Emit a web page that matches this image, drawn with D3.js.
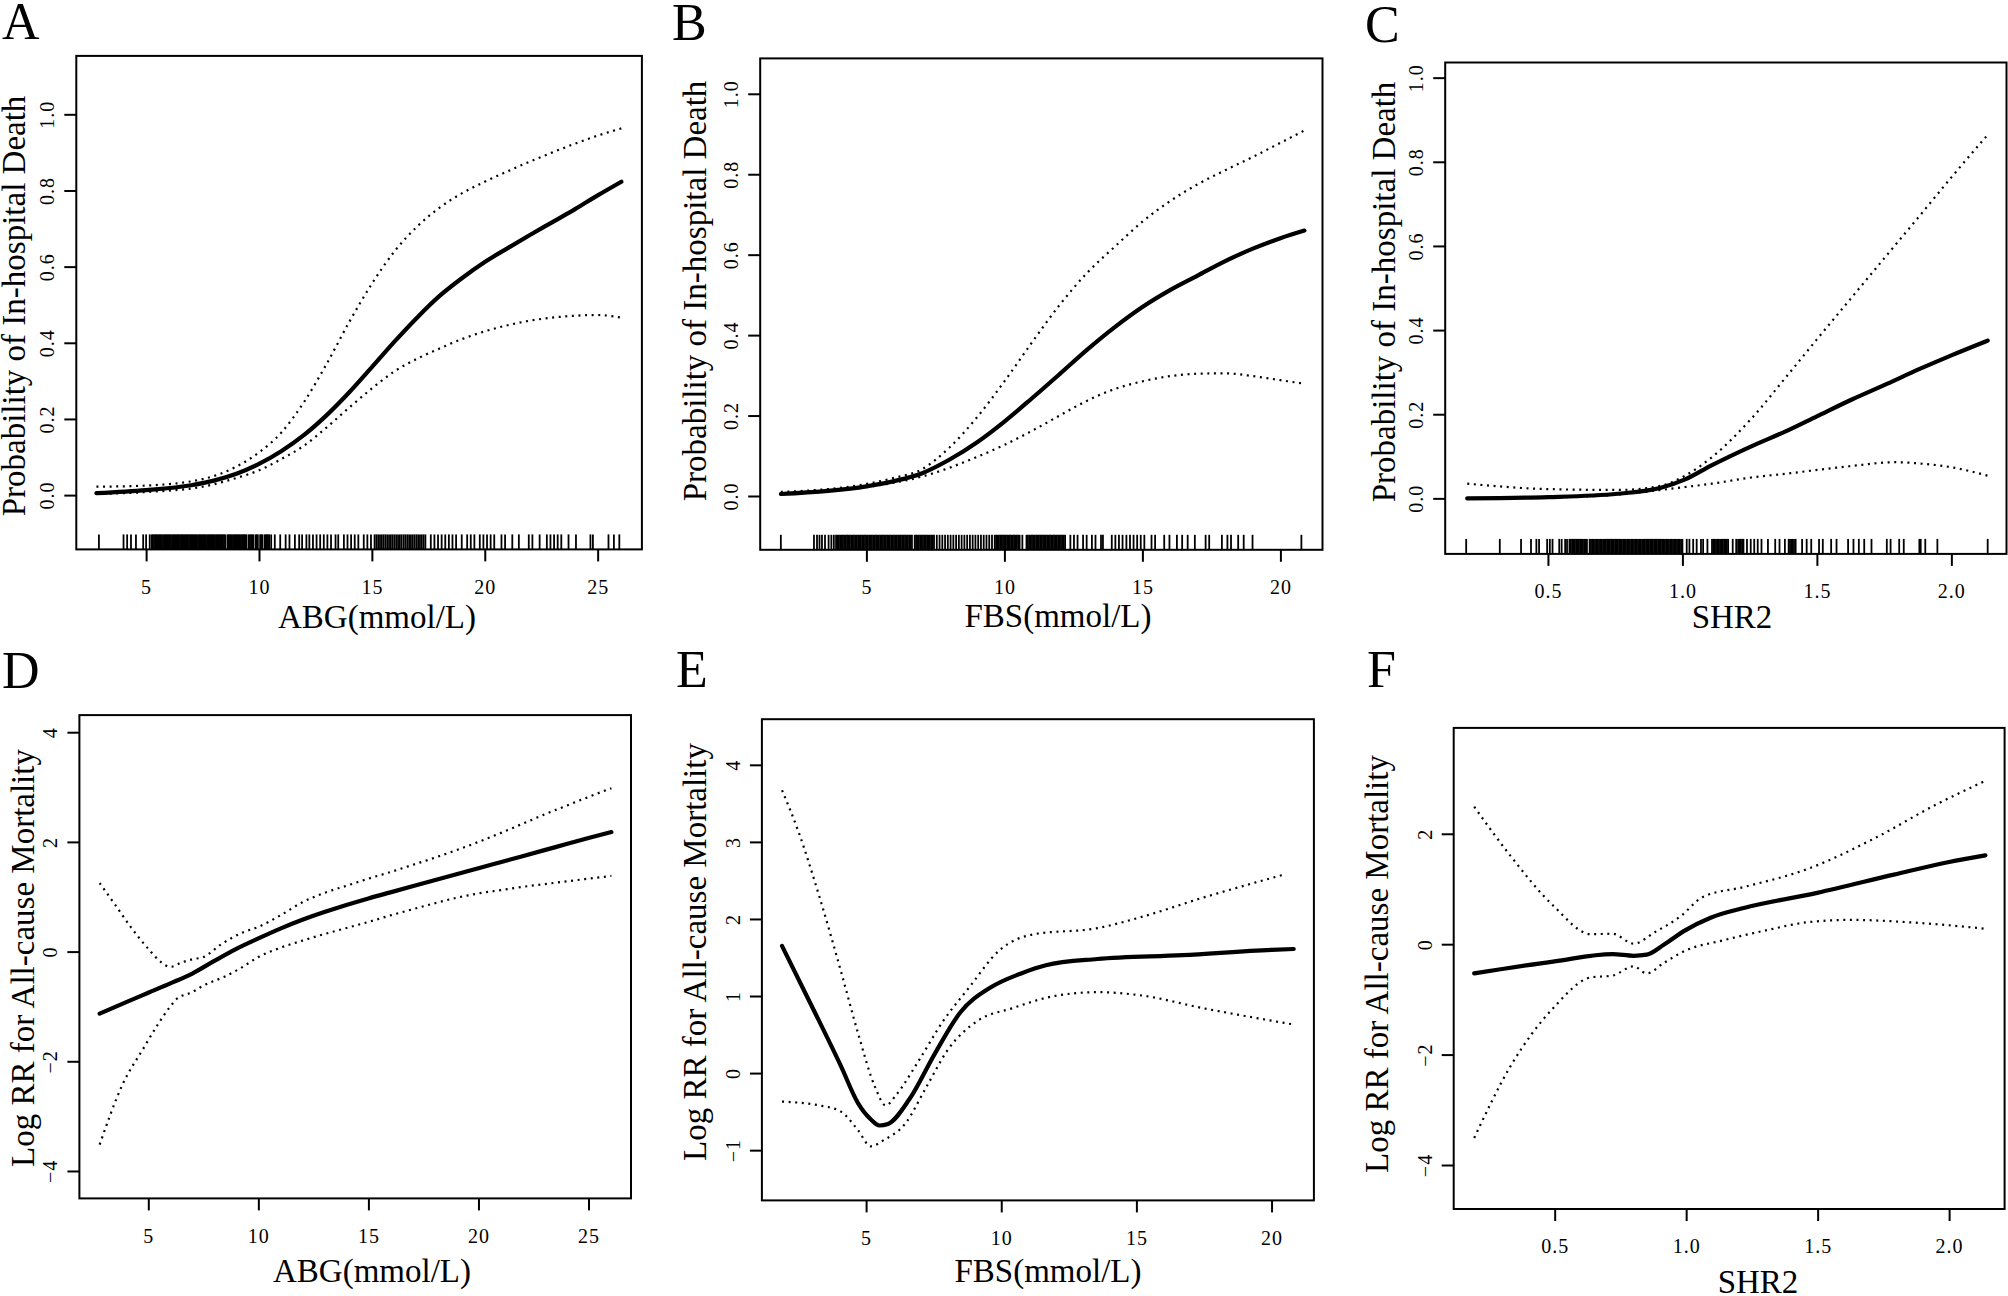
<!DOCTYPE html>
<html><head><meta charset="utf-8">
<script src="https://cdn.jsdelivr.net/npm/d3@7/dist/d3.min.js"></script>
<style>
html,body{margin:0;padding:0;background:#fff;}
svg{display:block;}
</style></head><body>
<svg id="chart" width="2008" height="1296"></svg>
<script>
// ---------------- DATA ----------------
const panelLetters = ["A","B","C","D","E","F"];
const xTitles = ["ABG(mmol/L)","FBS(mmol/L)","SHR2","ABG(mmol/L)","FBS(mmol/L)","SHR2"];
const yTitles = ["Probability of In-hospital Death","Probability of In-hospital Death","Probability of In-hospital Death",
                 "Log RR for All-cause Mortality","Log RR for All-cause Mortality","Log RR for All-cause Mortality"];

const xTicksABG = [5,10,15,20,25];           const xTickLabelsABG = ["5","10","15","20","25"];
const xTicksFBS = [5,10,15,20];              const xTickLabelsFBS = ["5","10","15","20"];
const xTicksSHR = [0.5,1.0,1.5,2.0];         const xTickLabelsSHR = ["0.5","1.0","1.5","2.0"];
const yTicksProb = [0,0.2,0.4,0.6,0.8,1.0];  const yTickLabelsProb = ["0.0","0.2","0.4","0.6","0.8","1.0"];
const yTicksD = [-4,-2,0,2,4];               const yTickLabelsD = ["\u22124","\u22122","0","2","4"];
const yTicksE = [-1,0,1,2,3,4];              const yTickLabelsE = ["\u22121","0","1","2","3","4"];
const yTicksF = [-4,-2,0,2];                 const yTickLabelsF = ["\u22124","\u22122","0","2"];

// Panel A : ABG vs probability of in-hospital death
const aFitX = [2.8,5,7,8,9,10,11,12,13,14,15,16,17,18,19,20,21,22,23,24,25,26.05];
const aFitY = [0.005,0.013,0.026,0.038,0.056,0.082,0.116,0.158,0.21,0.27,0.336,0.403,0.466,0.523,0.57,0.612,0.648,0.683,0.717,0.751,0.787,0.823];
const aUpX  = [2.8,5,7.5,9,10,11,12,13,14,15,16,17,18,19,20,21,22,23,24,25,26.05];
const aUpY  = [0.022,0.025,0.042,0.075,0.112,0.165,0.245,0.345,0.455,0.555,0.64,0.705,0.755,0.793,0.823,0.85,0.876,0.9,0.923,0.944,0.963];
const aLoX  = [2.8,5,7.5,9,10,11,12,13,14,15,16,17,18,19,20,22,24,25,26.05];
const aLoY  = [0.003,0.008,0.022,0.045,0.065,0.095,0.13,0.178,0.23,0.28,0.325,0.358,0.385,0.41,0.43,0.458,0.471,0.473,0.466];
const rugA = [2.91,4.0,4.16,4.33,4.55,4.87,5.0,5.16,
 5.25,5.3,5.35,5.4,5.45,5.5,5.55,5.6,5.65,5.7,5.75,5.8,5.85,5.9,5.95,6,6.05,6.1,6.15,6.2,6.25,6.3,6.35,6.4,6.45,6.5,6.55,6.6,6.65,6.7,6.75,6.8,6.85,6.9,6.95,7,7.05,7.1,7.15,7.2,7.25,7.3,7.35,7.4,7.45,7.5,7.55,7.6,7.65,7.7,7.75,7.8,7.85,7.9,7.95,8,8.05,8.1,8.15,8.2,8.25,8.3,8.35,8.4,8.45,8.5,8.6,8.65,8.7,8.75,8.8,8.85,8.9,8.95,9,9.05,9.1,9.15,9.2,9.25,9.3,9.35,9.4,9.45,9.55,9.6,9.65,9.7,9.75,9.85,9.9,9.95,10.05,10.1,10.15,10.25,10.3,10.35,10.4,10.45,
 10.54,10.70,10.94,11.18,11.35,11.59,11.78,11.91,12.10,12.23,12.39,12.55,12.71,12.87,13.03,13.19,13.39,13.51,13.76,13.92,14.08,14.24,14.40,14.64,14.80,14.96,15.12,15.2,15.28,15.36,15.44,15.52,15.60,15.68,15.76,15.84,15.92,16.0,16.08,16.16,16.24,16.32,16.41,16.49,16.57,16.65,16.73,16.81,16.89,16.97,17.05,17.13,17.21,17.29,17.37,17.61,17.77,17.93,18.09,18.25,18.41,18.57,18.73,18.98,19.22,19.38,19.54,19.78,19.94,20.10,20.26,20.42,20.74,20.90,21.22,21.51,21.95,22.11,22.43,22.75,22.91,23.07,23.23,23.39,23.71,24.04,24.68,24.79,25.48,25.72,25.96];

// Panel B : FBS vs probability of in-hospital death
const bFitX = [1.9,5,6,7,8,9,10,11,12,13,14,15,16,17,18,19,20,20.87];
const bFitY = [0.005,0.024,0.037,0.056,0.09,0.133,0.185,0.243,0.303,0.364,0.42,0.47,0.512,0.548,0.584,0.615,0.641,0.66];
const bUpX  = [1.9,5,6,7,8,9,10,11,12,13,14,15,16,17,18,19,20,20.87];
const bUpY  = [0.01,0.03,0.045,0.066,0.12,0.195,0.285,0.382,0.475,0.555,0.62,0.682,0.733,0.775,0.81,0.843,0.878,0.909];
const bLoX  = [1.9,5,6,7,8,9,10,11,12,13,14,15,16,17,18,19,20,20.87];
const bLoY  = [0.007,0.022,0.033,0.048,0.07,0.097,0.127,0.162,0.2,0.237,0.266,0.285,0.298,0.304,0.305,0.298,0.288,0.279];
const rugB = [1.90,3.10,3.21,3.30,3.39,3.50,3.63,3.73,3.82,
 3.9,3.95,4,4.05,4.1,4.15,4.2,4.25,4.3,4.35,4.4,4.45,4.5,4.55,4.6,4.65,4.7,4.75,4.8,4.85,4.9,4.95,5,5.05,5.1,5.15,5.2,5.25,5.3,5.35,5.4,5.45,5.5,5.55,5.6,5.65,5.7,5.75,5.8,5.85,5.9,5.95,6,6.05,6.1,6.15,6.2,6.25,6.3,6.35,6.4,6.45,6.5,6.55,6.6,6.65,
 6.75,6.8,6.85,6.9,6.95,7,7.05,7.1,7.15,7.2,7.25,7.3,7.35,7.4,7.45,
 7.55,7.65,7.75,7.85,7.95,8.05,8.15,8.25,8.35,8.45,8.55,8.65,8.75,8.85,8.95,9.05,9.15,9.25,9.35,9.45,9.55,
 9.65,9.7,9.75,9.8,9.85,9.9,9.95,10,10.05,10.1,10.15,10.2,10.25,10.3,10.35,10.4,10.45,10.5,10.55,10.65,
 10.8,10.85,10.9,10.95,11,11.05,11.1,11.15,11.2,11.25,11.3,11.35,11.4,11.45,11.5,11.55,11.6,11.65,11.7,11.75,11.8,11.85,11.9,11.95,12,12.05,12.1,12.15,12.2,
 12.39,12.52,12.65,12.85,12.98,13.17,13.30,13.50,13.57,13.89,14.02,14.15,14.28,14.42,14.55,14.68,14.81,14.94,15.07,15.33,15.46,15.79,15.98,16.25,16.44,16.64,16.90,17.29,17.42,17.88,18.08,18.21,18.47,18.67,18.99,20.76];

// Panel C : SHR2 vs probability of in-hospital death
const cFitX = [0.2,0.5,0.76,0.92,1.01,1.11,1.25,1.39,1.5,1.63,1.76,1.88,2.0,2.135];
const cFitY = [0.0,0.003,0.011,0.025,0.045,0.079,0.122,0.161,0.195,0.235,0.272,0.307,0.34,0.375];
const cUpX  = [0.2,0.5,0.76,0.92,1.01,1.11,1.25,1.39,1.5,1.63,1.76,1.88,2.0,2.135];
const cUpY  = [0.035,0.022,0.02,0.03,0.054,0.098,0.185,0.292,0.378,0.478,0.578,0.67,0.763,0.864];
const cLoX  = [0.2,0.5,0.76,0.92,1.01,1.11,1.25,1.39,1.63,1.79,1.88,2.0,2.135];
const cLoY  = [0.0,0.002,0.009,0.02,0.027,0.035,0.049,0.059,0.077,0.086,0.083,0.074,0.054];
const rugC = [0.196,0.321,0.40,0.437,0.457,0.467,0.497,0.507,0.517,0.542,0.551,0.564,0.571,
 0.58,0.585,0.59,0.595,0.6,0.605,0.61,0.615,0.62,0.625,0.63,0.635,0.64,0.645,0.655,0.66,0.665,0.67,0.675,0.68,0.685,0.69,0.695,0.7,0.705,0.71,0.715,0.72,0.725,0.73,0.735,0.74,0.745,0.75,0.755,0.76,0.765,0.77,0.775,0.78,0.785,0.79,0.795,0.8,0.805,0.81,0.815,0.82,0.825,0.83,0.835,0.84,0.845,0.85,0.855,0.86,0.865,0.87,0.875,0.88,0.885,0.89,0.895,0.9,0.905,0.91,0.915,0.92,0.925,0.93,0.935,0.94,0.945,0.95,0.955,0.96,0.965,0.97,0.975,0.98,0.985,0.99,0.995,1.0,
 1.016,1.026,1.04,1.053,1.069,1.077,1.093,
 1.11,1.115,1.12,1.125,1.13,1.135,1.14,1.145,1.15,1.155,1.16,1.165,1.17,
 1.187,1.20,1.207,1.212,1.217,1.222,1.227,1.24,1.254,1.267,1.28,1.294,1.318,1.345,1.361,1.381,1.395,1.4,1.405,1.41,1.415,1.421,1.445,1.462,1.479,1.508,1.522,1.553,1.573,1.616,1.636,1.656,1.676,1.703,1.76,1.774,1.806,1.823,1.881,1.886,1.903,1.948,2.135];

// Panel D : ABG vs log RR
const dFitX = [2.79,4,5,6,7,8,9,10,11,12,13,14,15,16,17,18,19,20,21,22,23,24,25,26.04];
const dFitY = [-1.13,-0.92,-0.75,-0.58,-0.40,-0.17,0.05,0.24,0.42,0.58,0.72,0.85,0.97,1.08,1.19,1.30,1.41,1.52,1.63,1.74,1.85,1.96,2.07,2.18];
const dUpX  = [2.79,3.5,4.2,5,5.6,6,6.5,7,7.5,8.3,9.3,10,11,12,13,14,15,16,17,18,19,20,21,22,23,24,25,26.04];
const dUpY  = [1.25,0.85,0.45,0.05,-0.2,-0.28,-0.2,-0.14,-0.1,0.13,0.35,0.45,0.66,0.9,1.07,1.2,1.33,1.45,1.58,1.71,1.85,2.0,2.16,2.33,2.5,2.66,2.82,2.98];
const dLoX  = [2.79,3.8,4.8,5.4,6.0,6.3,7,7.5,8.5,9.2,10,11,12,13,14,15,16,17,18,19,20,21,22,23,24,25,26.04];
const dLoY  = [-3.52,-2.45,-1.75,-1.35,-1.0,-0.86,-0.74,-0.62,-0.45,-0.3,-0.1,0.07,0.2,0.32,0.43,0.54,0.66,0.77,0.88,0.98,1.06,1.12,1.18,1.23,1.28,1.33,1.38];

// Panel E : FBS vs log RR
const eFitX = [1.89,2.96,4.07,4.7,5.17,5.49,5.81,6.6,7.54,8.49,9.6,10.71,11.65,13.55,16.71,20,20.82];
const eFitY = [1.65,0.89,0.09,-0.39,-0.60,-0.68,-0.66,-0.34,0.25,0.79,1.11,1.29,1.40,1.48,1.53,1.60,1.61];
const eUpX  = [1.89,2.49,3.28,4.07,4.7,5.33,5.73,6.12,6.91,7.86,8.81,9.92,11.18,13.55,15.13,17.5,20.5];
const eUpY  = [3.67,3.14,2.28,1.32,0.52,-0.18,-0.42,-0.28,0.14,0.68,1.11,1.59,1.80,1.88,2.02,2.28,2.58];
const eLoX  = [1.89,3.28,4.07,4.7,5.17,5.65,6.44,7.23,8.02,9.13,10.39,11.97,13.55,15.13,17.5,20.82];
const eLoY  = [-0.37,-0.42,-0.50,-0.74,-0.95,-0.87,-0.66,-0.18,0.30,0.68,0.84,1.00,1.05,1.01,0.84,0.63];

// Panel F : SHR2 vs log RR
const fFitX = [0.194,0.5,0.72,0.80,0.85,0.915,0.996,1.093,1.223,1.498,1.79,2.0,2.138];
const fFitY = [-0.53,-0.31,-0.18,-0.21,-0.19,-0.01,0.25,0.48,0.66,0.93,1.26,1.49,1.61];
const fUpX  = [0.194,0.332,0.494,0.639,0.72,0.80,0.882,0.98,1.061,1.223,1.466,1.709,1.951,2.138];
const fUpY  = [2.49,1.60,0.70,0.18,0.19,0.01,0.22,0.51,0.85,1.04,1.37,1.90,2.53,2.96];
const fLoX  = [0.194,0.332,0.494,0.639,0.72,0.80,0.85,0.915,0.996,1.141,1.303,1.466,1.627,1.87,2.138];
const fLoY  = [-3.51,-2.21,-1.16,-0.60,-0.57,-0.40,-0.53,-0.34,-0.12,0.07,0.25,0.40,0.44,0.39,0.28];

// ---------------- LAYOUT ----------------
const layout = [
 {box:[76.3,641.9,55.9,549.4],  xd:[1.908,26.96], yd:[-0.1426,1.1534], yT:[25,306],   xT:[377,628],   L:[2,39]},
 {box:[760.2,1322.5,58.4,549.8],xd:[1.152,21.525],yd:[-0.1338,1.088],  yT:[706,291],  xT:[1058,627],  L:[672,40]},
 {box:[1445.2,2006.5,62.5,553.9],xd:[0.118,2.205],yd:[-0.132,1.036],   yT:[1395,292], xT:[1732,628],  L:[1365,42]},
 {box:[79.4,631,715.1,1198.4],  xd:[1.870,26.93], yd:[-4.50,4.312],    yT:[34,958],   xT:[372,1282],  L:[2,688]},
 {box:[761.9,1313.9,719.2,1200.4],xd:[1.145,21.567],yd:[-1.652,4.592], yT:[706,952],  xT:[1048,1282], L:[676,687]},
 {box:[1453.7,2004.6,727.9,1209],xd:[0.116,2.211], yd:[-4.797,3.918],  yT:[1388,964], xT:[1758,1293], L:[1367,687]}
];

const series = [
 {fit:[aFitX,aFitY],up:[aUpX,aUpY],lo:[aLoX,aLoY],rug:rugA,xt:xTicksABG,xl:xTickLabelsABG,yt:yTicksProb,yl:yTickLabelsProb},
 {fit:[bFitX,bFitY],up:[bUpX,bUpY],lo:[bLoX,bLoY],rug:rugB,xt:xTicksFBS,xl:xTickLabelsFBS,yt:yTicksProb,yl:yTickLabelsProb},
 {fit:[cFitX,cFitY],up:[cUpX,cUpY],lo:[cLoX,cLoY],rug:rugC,xt:xTicksSHR,xl:xTickLabelsSHR,yt:yTicksProb,yl:yTickLabelsProb},
 {fit:[dFitX,dFitY],up:[dUpX,dUpY],lo:[dLoX,dLoY],rug:null,xt:xTicksABG,xl:xTickLabelsABG,yt:yTicksD,yl:yTickLabelsD},
 {fit:[eFitX,eFitY],up:[eUpX,eUpY],lo:[eLoX,eLoY],rug:null,xt:xTicksFBS,xl:xTickLabelsFBS,yt:yTicksE,yl:yTickLabelsE},
 {fit:[fFitX,fFitY],up:[fUpX,fUpY],lo:[fLoX,fLoY],rug:null,xt:xTicksSHR,xl:xTickLabelsSHR,yt:yTicksF,yl:yTickLabelsF}
];

// ---------------- DRAW ----------------
const FONT = "'Liberation Serif','Times New Roman',serif";
const svg = d3.select("#chart");
svg.append("rect").attr("width",2008).attr("height",1296).attr("fill","#fff");

series.forEach((s,i)=>{
  const L = layout[i];
  const [x0,x1,y0,y1] = L.box;
  const x = d3.scaleLinear().domain(L.xd).range([x0,x1]);
  const y = d3.scaleLinear().domain(L.yd).range([y1,y0]);
  const g = svg.append("g");

  // rug
  if (s.rug) {
    g.append("g").selectAll("line").data(s.rug).join("line")
      .attr("x1",d=>x(d)).attr("x2",d=>x(d))
      .attr("y1",y1).attr("y2",y1-15)
      .attr("stroke","#000").attr("stroke-width",1.8);
  }

  const line = d3.line().x(d=>x(d[0])).y(d=>y(d[1])).curve(d3.curveMonotoneX);
  const pts = arr => arr[0].map((v,k)=>[v,arr[1][k]]);

  [s.up, s.lo].forEach(c=>{
    g.append("path").attr("d",line(pts(c))).attr("fill","none")
      .attr("stroke","#000").attr("stroke-width",2.2)
      .attr("stroke-dasharray","2,4.6");
  });
  g.append("path").attr("d",line(pts(s.fit))).attr("fill","none")
    .attr("stroke","#000").attr("stroke-width",4.2).attr("stroke-linecap","round").attr("stroke-linejoin","round");

  // x axis
  const xa = g.append("g").attr("transform",`translate(0,${y1})`)
    .call(d3.axisBottom(x).tickValues(s.xt).tickSize(12).tickPadding(18)
      .tickFormat((d,k)=>s.xl[k]));
  xa.select(".domain").remove();
  xa.selectAll(".tick line").attr("stroke","#000").attr("stroke-width",2);
  xa.selectAll("text").attr("font-family",FONT).attr("font-size",20).attr("fill","#000")
    .attr("letter-spacing",1);

  // y axis
  const ya = g.append("g").attr("transform",`translate(${x0},0)`)
    .call(d3.axisLeft(y).tickValues(s.yt).tickSize(12).tickFormat((d,k)=>s.yl[k]));
  ya.select(".domain").remove();
  ya.selectAll(".tick line").attr("stroke","#000").attr("stroke-width",2);
  ya.selectAll("text").attr("x",null).attr("dy",null).attr("text-anchor","middle")
    .attr("transform","translate(-22,0) rotate(-90)")
    .attr("font-family",FONT).attr("font-size",20).attr("fill","#000").attr("letter-spacing",1);

  // box
  g.append("rect").attr("x",x0).attr("y",y0).attr("width",x1-x0).attr("height",y1-y0)
    .attr("fill","none").attr("stroke","#000").attr("stroke-width",2);

  // titles
  g.append("text").attr("transform",`translate(${L.yT[0]},${L.yT[1]}) rotate(-90)`)
    .attr("text-anchor","middle").attr("font-family",FONT).attr("font-size",33).text(yTitles[i]);
  g.append("text").attr("x",L.xT[0]).attr("y",L.xT[1]).attr("text-anchor","middle")
    .attr("font-family",FONT).attr("font-size",33).text(xTitles[i]);
  g.append("text").attr("x",L.L[0]).attr("y",L.L[1])
    .attr("font-family",FONT).attr("font-size",52).text(panelLetters[i]);
});
</script>
</body></html>
